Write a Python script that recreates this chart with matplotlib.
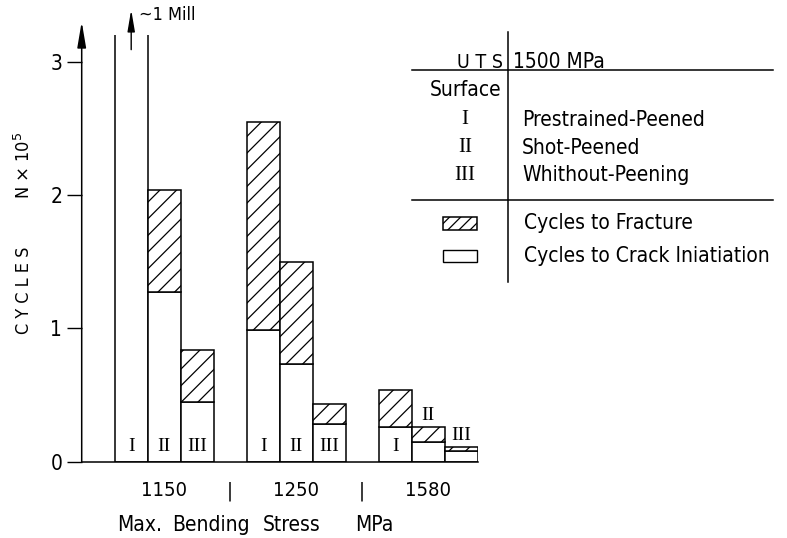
import matplotlib
matplotlib.use("Agg")
import matplotlib.pyplot as plt
from matplotlib.patches import Rectangle
from matplotlib.lines import Line2D

# ---------------- data ----------------
stress_labels = ["1150", "1250", "1580"]
surfaces = ["I", "II", "III"]
# cycles (x 10^5) to crack initiation, per stress group, per surface
initiation_1150 = [10.0, 1.27, 0.45]
initiation_1250 = [0.99, 0.73, 0.28]
initiation_1580 = [0.26, 0.145, 0.08]
# cycles (x 10^5) to fracture
fracture_1150 = [10.0, 2.035, 0.84]
fracture_1250 = [2.545, 1.50, 0.43]
fracture_1580 = [0.54, 0.26, 0.11]
yticks = [0, 1, 2, 3]
legend_surface_names = ["Prestrained-Peened", "Shot-Peened", "Whithout-Peening"]
xlabel_words = ["Max.", "Bending", "Stress", "MPa"]

initiation = [initiation_1150, initiation_1250, initiation_1580]
fracture = [fracture_1150, fracture_1250, fracture_1580]

plt.rcParams["hatch.linewidth"] = 0.9
plt.rcParams["hatch.color"] = "black"

W, H = 787, 538
fig = plt.figure(figsize=(W / 100, H / 100), dpi=100)

def fx(x):
    return x / W

def fy(y):
    return 1 - y / H

ax = fig.add_axes([fx(81.7), fy(461.5), 396 / W, (461.5 - 35) / H])
ax.set_xlim(0, 12)
ax.set_ylim(0, 3.2)

sans = dict(family="DejaVu Sans", fontstretch="condensed")
serif = dict(family=["Liberation Serif", "DejaVu Serif"])

# bars: each group occupies 3 slots, separated by one empty slot
for g, (ini, frc) in enumerate(zip(initiation, fracture)):
    for s in range(3):
        x = 1 + g * 4 + s
        ax.bar(x, ini[s], width=1, align="edge", color="white",
               edgecolor="black", linewidth=1.1, zorder=2)
        ax.bar(x, frc[s] - ini[s], bottom=ini[s], width=1, align="edge",
               color="white", edgecolor="black", linewidth=1.1,
               hatch="//", zorder=2)
        if frc[s] > 0.3:
            ax.text(x + 0.5, 0.11, surfaces[s], ha="center", va="center",
                    fontsize=14, zorder=3, **serif)
        else:
            ax.text(x + 0.5, frc[s] + 0.02, surfaces[s], ha="center",
                    va="bottom", fontsize=14, zorder=3, **serif)

# axes styling
for sp in ["top", "right", "left"]:
    ax.spines[sp].set_visible(False)
ax.spines["bottom"].set_linewidth(1.1)
ax.set_xticks([])
ax.set_yticks(yticks)
ax.set_yticklabels([str(t) for t in yticks], fontsize=15, **sans)
ax.tick_params(axis="y", direction="out", length=11, width=1, pad=3)

# y axis with arrow
ax.annotate("", xy=(0, 3.3), xytext=(0, 0), xycoords="data",
            arrowprops=dict(arrowstyle="-|>,head_length=1.3,head_width=0.22",
                            color="black", lw=1.1, shrinkA=0, shrinkB=0,
                            mutation_scale=12),
            annotation_clip=False)
# "~1 Mill" arrow on the off-scale bar
ax.annotate("", xy=(1.5, 3.39), xytext=(1.5, 3.09), xycoords="data",
            arrowprops=dict(arrowstyle="-|>,head_length=1.3,head_width=0.22",
                            color="black", lw=1.0, shrinkA=0, shrinkB=0,
                            mutation_scale=10),
            annotation_clip=False)
ax.text(1.75, 3.35, "~1 Mill", ha="left", va="center", fontsize=13,
        clip_on=False, **sans)

# y label pieces
fig.text(fx(24), fy(290), "C Y C L E S", rotation=90, ha="center",
         va="center", fontsize=13, **sans)
fig.text(fx(24), fy(165), r"N $\times$ 10$^5$", rotation=90, ha="center",
         va="center", fontsize=13, **sans)

# x labels
for g, lab in enumerate(stress_labels):
    ax.text(1 + g * 4 + 1.5, -0.22, lab, ha="center", va="center",
            fontsize=14.5, clip_on=False, **sans)
for g in range(2):
    ax.text(4.5 + g * 4, -0.22, "|", ha="center", va="center",
            fontsize=14.5, clip_on=False, **sans)
for word, xp in zip(xlabel_words, [117, 172, 263, 355]):
    fig.text(fx(xp), fy(525), word, ha="left", va="center", fontsize=15,
             **sans)

# legend table
fig.add_artist(Line2D([fx(508), fx(508)], [fy(32), fy(282)],
                      color="black", lw=1.1))
fig.add_artist(Line2D([fx(412), fx(773)], [fy(70), fy(70)],
                      color="black", lw=1.1))
fig.add_artist(Line2D([fx(412), fx(773)], [fy(200), fy(200)],
                      color="black", lw=1.1))
fig.text(fx(503), fy(62), "U T S", ha="right", va="center", fontsize=14,
         **sans)
fig.text(fx(513), fy(62), "1500 MPa", ha="left", va="center",
         fontsize=15, **sans)
fig.text(fx(501), fy(90), "Surface", ha="right", va="center",
         fontsize=15, **sans)
for i, (r, name) in enumerate(zip(surfaces, legend_surface_names)):
    y = [120, 148, 175][i]
    fig.text(fx(465), fy(y), r, ha="center", va="center", fontsize=15,
             **serif)
    fig.text(fx(522), fy(y), name, ha="left", va="center", fontsize=15,
             **sans)
fig.add_artist(Rectangle((fx(443), fy(230)), 34 / W, 13 / H,
                         transform=fig.transFigure, facecolor="white",
                         edgecolor="black", lw=1.1, hatch="///"))
fig.add_artist(Rectangle((fx(443), fy(262)), 34 / W, 12 / H,
                         transform=fig.transFigure, facecolor="white",
                         edgecolor="black", lw=1.0))
fig.text(fx(524), fy(223), "Cycles to Fracture", ha="left", va="center",
         fontsize=15, **sans)
fig.text(fx(524), fy(256), "Cycles to Crack Iniatiation", ha="left",
         va="center", fontsize=15, **sans)

fig.savefig("out.png", dpi=100, facecolor="white")
